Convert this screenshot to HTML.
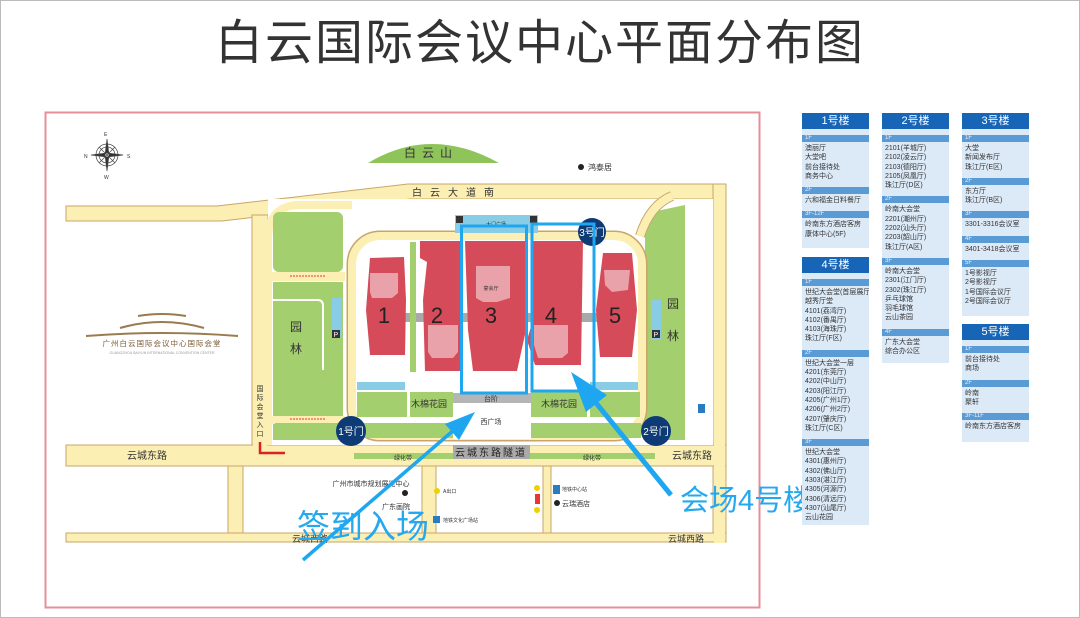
<!DOCTYPE html>
<html><head><meta charset="utf-8">
<style>
*{margin:0;padding:0;box-sizing:border-box}
body{width:1080px;height:618px;background:#fff;position:relative;overflow:hidden;font-family:"Liberation Sans","Noto Sans CJK SC",sans-serif}
.frame{position:absolute;left:0;top:0;width:1080px;height:618px;border:1px solid #bbb}
.title{position:absolute;left:0;width:1080px;top:14px;text-align:center;font-size:48px;color:#333;letter-spacing:2px;line-height:60px}
.p{position:absolute;width:67px;background:#dce9f7}
.p .h{background:#1665b6;color:#fff;text-align:center;font-size:11px;height:16px;line-height:16px}
.p .s{background:#5b9bd5;color:#e8f2fb;font-size:6px;height:7px;line-height:7px;padding-left:3px;margin-top:6px}
.p .it{font-size:7px;line-height:9.3px;color:#333;padding:2px 0 0 3px;white-space:nowrap;overflow:hidden}
</style></head><body>
<div class="frame"></div>
<div class="title">白云国际会议中心平面分布图</div>

<svg style="position:absolute;left:0;top:0" width="1080" height="618" viewBox="0 0 1080 618" font-family="Liberation Sans, Noto Sans CJK SC, sans-serif">
<rect x="45.5" y="112.5" width="714" height="495" fill="#fff" stroke="#e68f98" stroke-width="2"/>
<!-- compass -->
<g transform="translate(107,155)" stroke="#444" fill="none" stroke-width="0.7">
<circle r="11"/><circle r="8"/>
<path d="M0,-16 L2,0 L0,16 L-2,0Z M-16,0 L0,2 L16,0 L0,-2Z" fill="#333"/>
<path d="M-8,-8 L8,8 M8,-8 L-8,8"/>
</g>
<text x="104" y="136" font-size="5" fill="#333">E</text><text x="104" y="179" font-size="5" fill="#333">W</text>
<text x="84" y="158" font-size="5" fill="#333">N</text><text x="127" y="158" font-size="5" fill="#333">S</text>
<!-- hill -->
<path d="M368,163 Q431,125 499,163Z" fill="#8fc45a"/>
<text x="431" y="157" font-size="12" text-anchor="middle" fill="#333" letter-spacing="6">白云山</text>
<circle cx="581" cy="167" r="3" fill="#222"/><text x="588" y="170" font-size="8" fill="#333">鸿泰居</text>

<!-- roads -->
<g fill="#fbefb3" stroke="#c9a56a" stroke-width="1">
<path d="M66,206 L217,206 L408,184 L726,184 L726,199 L410,199 L222,221 L66,221Z"/>
<rect x="252" y="215" width="16" height="235"/>
<rect x="713" y="184" width="13" height="358"/>
<rect x="66" y="445" width="660" height="21"/>
<rect x="66" y="533" width="660" height="9"/>
<rect x="228" y="466" width="15" height="67"/>
<rect x="422" y="466" width="14" height="67"/>
<rect x="543" y="466" width="8" height="67"/>
</g>
<rect x="253" y="216" width="14" height="236" fill="#fbefb3"/>
<rect x="714" y="185" width="11" height="358" fill="#fbefb3"/>
<rect x="67" y="446" width="658" height="19" fill="#fbefb3"/>
<!-- campus -->
<rect x="268" y="199" width="445" height="246" fill="#fff"/>
<path d="M268,445 L268,240 Q268,205 300,205 L352,205" fill="none" stroke="#fbefb3" stroke-width="8"/>
<!-- left park -->
<g fill="#a4cf6e">
<rect x="273" y="212" width="70" height="60" rx="6"/>
<rect x="273" y="282" width="70" height="134"/>
<rect x="273" y="424" width="70" height="16"/>
</g>
<rect x="271" y="272" width="74" height="9" fill="#fbefb3"/>
<rect x="271" y="416" width="74" height="8" fill="#fbefb3"/>
<path d="M273,300 L318,300 Q323,300 323,306 L323,370" fill="none" stroke="#fff" stroke-width="2"/>
<path d="M290,276 L325,276" stroke="#e33" stroke-width="1" stroke-dasharray="2,1"/>
<path d="M290,419 L325,419" stroke="#e33" stroke-width="1" stroke-dasharray="2,1"/>
<rect x="332" y="298" width="10" height="40" fill="#88cde5"/>
<rect x="332" y="330" width="8" height="8" fill="#333"/><text x="333.5" y="337" font-size="7" fill="#fff">P</text>
<!-- right park -->
<path d="M652,212 L685,205 L685,440 L645,440 L645,235Z" fill="#a4cf6e"/>
<rect x="651" y="300" width="10" height="40" fill="#88cde5"/>
<rect x="652" y="330" width="8" height="8" fill="#333"/><text x="653.5" y="337" font-size="7" fill="#fff">P</text>
<path d="M640,236 Q650,205 672,196" fill="none" stroke="#c9a56a" stroke-width="10"/>
<path d="M640,236 Q650,205 672,196" fill="none" stroke="#fbefb3" stroke-width="8"/>
<!-- ring -->
<rect x="352" y="236" width="290" height="200" rx="28" fill="none" stroke="#c9a56a" stroke-width="11"/>
<rect x="352" y="236" width="290" height="200" rx="28" fill="#fff" stroke="#fbefb3" stroke-width="8"/>
<!-- bottom greens -->
<rect x="275" y="423" width="366" height="15" fill="#a4cf6e"/>
<rect x="357" y="392" width="50" height="25" fill="#a4cf6e"/>
<rect x="410" y="392" width="43" height="25" fill="#a4cf6e"/>
<rect x="531" y="392" width="56" height="25" fill="#a4cf6e"/>
<rect x="590" y="392" width="50" height="25" fill="#a4cf6e"/>
<rect x="453" y="403" width="78" height="36" fill="#fff"/>
<rect x="453" y="393" width="78" height="10" fill="#b5b5b5"/>
<rect x="357" y="382" width="48" height="8" fill="#88cde5"/>
<rect x="590" y="382" width="48" height="8" fill="#88cde5"/>
<rect x="455" y="215" width="83" height="18" fill="#88cde5"/>
<text x="496" y="226" font-size="5" text-anchor="middle" fill="#333">大门广场</text>
<rect x="456" y="216" width="7" height="7" fill="#333"/><rect x="530" y="216" width="7" height="7" fill="#333"/>
<!-- connectors -->
<rect x="404" y="313" width="196" height="9" fill="#a9a9a9"/>
<rect x="410" y="242" width="6" height="130" fill="#a4cf6e"/>
<!-- buildings -->
<g fill="#d64b5a">
<path d="M370,258 L404,257 L406,300 L405,355 L370,355 L366,310Z"/>
<path d="M420,241 L460,241 L460,371 L425,371 L423,300 L427,262 L420,258Z"/>
<path d="M465,241 L526,241 L526,330 L517,371 L473,371 L468,330Z"/>
<path d="M533,241 L583,241 L581,365 L535,365 L527,340 L533,320Z"/>
<path d="M603,253 L632,253 L637,310 L632,357 L600,357 L596,310Z"/>
</g>
<g fill="#e9a2aa">
<path d="M370,273 L398,273 L398,293 L392,298 L372,298 L370,292Z"/>
<path d="M428,325 L458,325 L458,352 L453,358 L432,358 L428,352Z"/>
<path d="M476,266 L510,266 L510,298 L497,302 L483,302 L476,298Z"/>
<path d="M534,325 L568,325 L568,353 L562,358 L538,358 L534,345Z"/>
<path d="M604,270 L630,270 L628,290 L612,292 L605,285Z"/>
</g>
<g font-size="22" fill="#222" text-anchor="middle">
<text x="384" y="323">1</text><text x="437" y="323">2</text><text x="491" y="323">3</text><text x="551" y="323">4</text><text x="615" y="323">5</text>
</g>
<text x="491" y="290" font-size="5" text-anchor="middle" fill="#333">宴会厅</text>
<!-- labels -->
<text x="457" y="196" font-size="10" text-anchor="middle" fill="#333" letter-spacing="8">白云大道南</text>
<text x="147" y="459" font-size="10" text-anchor="middle" fill="#333">云城东路</text>
<text x="692" y="459" font-size="10" text-anchor="middle" fill="#333">云城东路</text>
<text x="310" y="542" font-size="9" text-anchor="middle" fill="#333">云城西路</text>
<text x="686" y="542" font-size="9" text-anchor="middle" fill="#333">云城西路</text>
<rect x="354" y="453" width="301" height="6" fill="#a4cf6e"/>
<rect x="453" y="445" width="77" height="14" fill="#aaa"/>
<text x="491" y="456" font-size="10" text-anchor="middle" fill="#222" letter-spacing="2">云城东路隧道</text>
<text x="403" y="460" font-size="6" text-anchor="middle" fill="#333">绿化带</text>
<text x="592" y="460" font-size="6" text-anchor="middle" fill="#333">绿化带</text>
<g font-size="12" fill="#333" text-anchor="middle"><text x="296" y="331">园</text><text x="296" y="353">林</text><text x="673" y="308">园</text><text x="673" y="340">林</text></g>
<text x="429" y="407" font-size="9" text-anchor="middle" fill="#333">木棉花园</text>
<text x="559" y="407" font-size="9" text-anchor="middle" fill="#333">木棉花园</text>
<text x="491" y="401" font-size="7" text-anchor="middle" fill="#333">台阶</text>
<text x="491" y="424" font-size="7" text-anchor="middle" fill="#333">西广场</text>
<g font-size="7" fill="#333" text-anchor="middle"><text x="260" y="391">国</text><text x="260" y="400">际</text><text x="260" y="409">会</text><text x="260" y="418">堂</text><text x="260" y="427">入</text><text x="260" y="436">口</text></g>
<path d="M260,442 L260,453 L285,453" fill="none" stroke="#d22" stroke-width="2.5"/>
<!-- gates -->
<g fill="#0e3b76"><circle cx="351" cy="431" r="15"/><circle cx="656" cy="431" r="15"/><circle cx="592" cy="232" r="14"/></g>
<g fill="#fff" font-size="10" text-anchor="middle"><text x="351" y="435">1号门</text><text x="656" y="435">2号门</text><text x="592" y="236">3号门</text></g>
<!-- logo -->
<g fill="none" stroke="#9a7b4f" stroke-width="2">
<path d="M138,316 Q162,312 186,316"/><path d="M120,328 Q162,316 204,328"/><path d="M86,336 Q162,330 238,336"/>
</g>
<text x="162" y="346" font-size="7.5" text-anchor="middle" fill="#7a5a35" letter-spacing="1">广州白云国际会议中心国际会堂</text>
<text x="162" y="354" font-size="3.5" text-anchor="middle" fill="#999">GUANGZHOU BAIYUN INTERNATIONAL CONVENTION CENTER</text>
<!-- bottom block -->
<text x="371" y="486" font-size="7" text-anchor="middle" fill="#333">广州市城市规划展览中心</text>
<circle cx="405" cy="493" r="3" fill="#222"/>
<text x="396" y="509" font-size="7" text-anchor="middle" fill="#333">广东画院</text>
<circle cx="437" cy="491" r="3" fill="#f0d000"/><text x="443" y="493" font-size="5" fill="#333">A出口</text>
<rect x="433" y="516" width="7" height="7" fill="#2a7bc0"/><text x="443" y="522" font-size="5" fill="#333">地铁文化广场站</text>
<rect x="535" y="494" width="5" height="10" fill="#e33"/><circle cx="537" cy="488" r="3" fill="#f0d000"/><circle cx="537" cy="510" r="3" fill="#f0d000"/>
<rect x="553" y="485" width="7" height="9" fill="#2a7bc0"/><text x="562" y="491" font-size="5" fill="#333">地铁中心站</text>
<circle cx="557" cy="503" r="3" fill="#222"/><text x="562" y="506" font-size="7" fill="#333">云瑞酒店</text>
<rect x="698" y="404" width="7" height="9" fill="#2a7bc0"/>
<!-- highlight boxes -->
<rect x="461.5" y="226" width="65" height="167" fill="none" stroke="#1ea7f0" stroke-width="3"/>
<rect x="532" y="224" width="62" height="167" fill="none" stroke="#1ea7f0" stroke-width="3"/>
<!-- arrows -->
<line x1="303" y1="560" x2="455" y2="429" stroke="#1ea7f0" stroke-width="3.5"/>
<path d="M475,412 L459,440 L445,424Z" fill="#1ea7f0"/>
<line x1="671" y1="495" x2="592" y2="398" stroke="#1ea7f0" stroke-width="5"/>
<path d="M571,372 L607,395 L586,412Z" fill="#1ea7f0"/>
<text x="297" y="538" font-size="33" fill="#26a8ef">签到入场</text>
<text x="680" y="510" font-size="29" fill="#26a8ef">会场4号楼</text>
</svg>

<div class="p" style="left:802px;top:113px;height:135px"><div class="h">1号楼</div>
<div class="s">1F</div><div class="it">澳丽厅<br>大堂吧<br>前台接待处<br>商务中心</div>
<div class="s">2F</div><div class="it">六和福金日料餐厅</div>
<div class="s">3F-12F</div><div class="it">岭南东方酒店客房<br>康体中心(5F)</div></div>

<div class="p" style="left:802px;top:257px;height:268px"><div class="h">4号楼</div>
<div class="s">1F</div><div class="it">世纪大会堂(首层展厅)<br>越秀厅堂<br>4101(荔湾厅)<br>4102(番禺厅)<br>4103(海珠厅)<br>珠江厅(F区)</div>
<div class="s">2F</div><div class="it">世纪大会堂一层<br>4201(东莞厅)<br>4202(中山厅)<br>4203(阳江厅)<br>4205(广州1厅)<br>4206(广州2厅)<br>4207(肇庆厅)<br>珠江厅(C区)</div>
<div class="s">3F</div><div class="it">世纪大会堂<br>4301(惠州厅)<br>4302(佛山厅)<br>4303(湛江厅)<br>4305(河源厅)<br>4306(清远厅)<br>4307(汕尾厅)<br>云山花园</div></div>

<div class="p" style="left:882px;top:113px;height:250px"><div class="h">2号楼</div>
<div class="s">1F</div><div class="it">2101(羊城厅)<br>2102(凌云厅)<br>2103(德阳厅)<br>2105(凤凰厅)<br>珠江厅(D区)</div>
<div class="s">2F</div><div class="it">岭南大会堂<br>2201(潮州厅)<br>2202(汕头厅)<br>2203(韶山厅)<br>珠江厅(A区)</div>
<div class="s">3F</div><div class="it">岭南大会堂<br>2301(江门厅)<br>2302(珠江厅)<br>乒乓球馆<br>羽毛球馆<br>云山茶园</div>
<div class="s">4F</div><div class="it">广东大会堂<br>综合办公区</div></div>

<div class="p" style="left:962px;top:113px;height:203px"><div class="h">3号楼</div>
<div class="s">1F</div><div class="it">大堂<br>新闻发布厅<br>珠江厅(E区)</div>
<div class="s">2F</div><div class="it">东方厅<br>珠江厅(B区)</div>
<div class="s">3F</div><div class="it">3301-3316会议室</div>
<div class="s">4F</div><div class="it">3401-3418会议室</div>
<div class="s">5F</div><div class="it">1号影视厅<br>2号影视厅<br>1号国际会议厅<br>2号国际会议厅</div></div>

<div class="p" style="left:962px;top:324px;height:118px"><div class="h">5号楼</div>
<div class="s">1F</div><div class="it">前台接待处<br>商场</div>
<div class="s">2F</div><div class="it">岭南<br>聚轩</div>
<div class="s">3F-11F</div><div class="it">岭南东方酒店客房</div></div>
</body></html>
